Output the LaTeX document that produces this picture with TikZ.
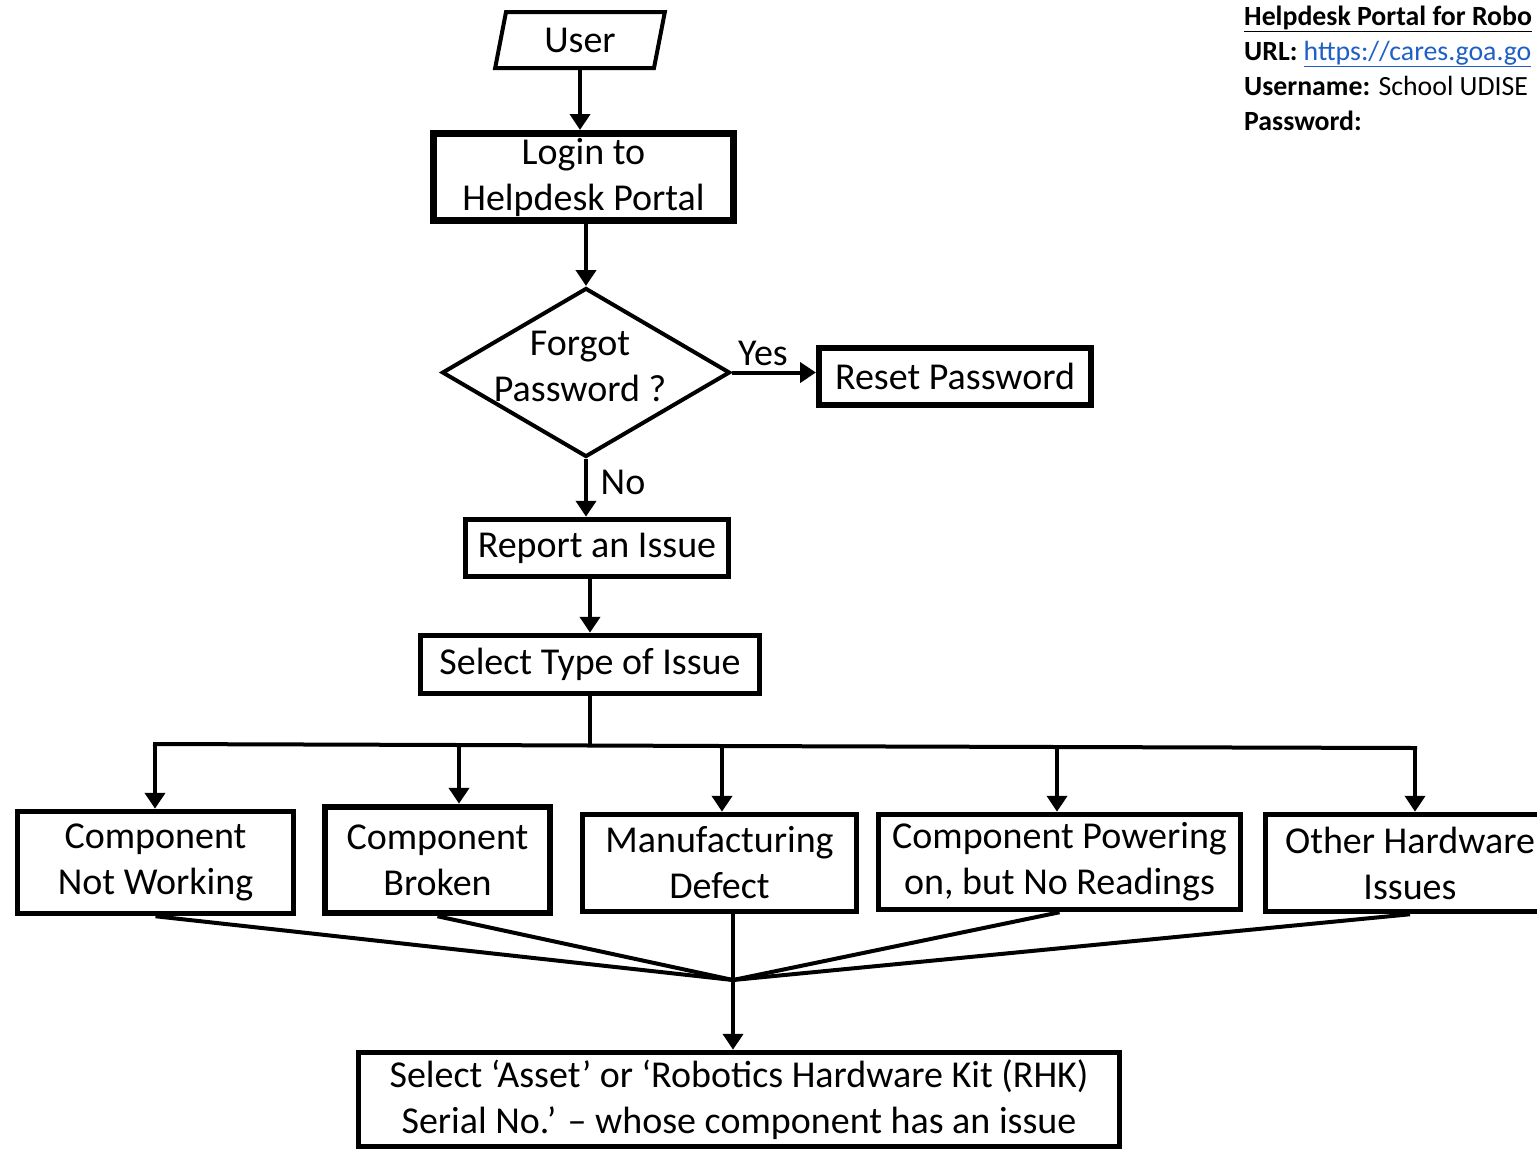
\documentclass[tikz,border=0pt]{standalone}
\usepackage{fontspec}
\setmainfont{Carlito}
\usetikzlibrary{arrows.meta,shapes.geometric}
\definecolor{linkblue}{HTML}{1F5FC8}
\newcommand\mainfs{\fontsize{38}{46}\selectfont}
\newcommand\infofs{\fontsize{27.8}{35}\selectfont}
\tikzset{
  box/.style={draw, rectangle, line width=5.5pt, inner sep=0pt, align=center, font=\mainfs},
  thickbox/.style={box, line width=7pt},
  arr/.style={line width=4pt, -{Triangle[width=20pt,length=16pt]}},
  conn/.style={line width=4pt},
  lbl/.style={font=\mainfs, inner sep=0pt},
  info/.style={font=\infofs, inner sep=0pt, anchor=base west}
}
\begin{document}
\begin{tikzpicture}[x=1pt,y=-1pt]
\clip (0,0) rectangle (1537,1149);
\fill[white] (0,0) rectangle (1537,1149);

% top flow
\node[trapezium, trapezium left angle=78, trapezium right angle=102, trapezium stretches=true,
      draw, line width=4pt, minimum width=170pt, minimum height=56pt, inner sep=0pt, font=\mainfs]
      (user) at (580,40) {User};
\node[thickbox, minimum width=300pt, minimum height=87pt] (login) at (583.5,177) {Login to\\Helpdesk Portal};
\node[diamond, draw, line width=4pt, aspect=1.7, minimum width=288pt, minimum height=169pt, inner sep=0pt]
      (dec) at (586,372.5) {};
\node[lbl, align=center] (dectext) at (580,366) {Forgot\\Password ?};
\node[box, line width=6pt, minimum width=272pt, minimum height=57pt] (reset) at (955,376.5) {Reset Password};
\node[box, minimum width=263pt, minimum height=57pt] (report) at (597,548) {Report an Issue};
\node[box, minimum width=339pt, minimum height=58pt] (stype) at (590,664.5) {Select Type of Issue};

\node[lbl] (yes) at (763,353) {Yes};
\node[lbl] (no) at (623,482) {No};

\draw[arr] (user.south) -- (user.south |- login.north);
\draw[arr] (login.south -| dec.north) -- (dec.north);
\draw[arr] (dec.east) -- (dec.east -| reset.west);
\draw[arr] (dec.south) -- (dec.south |- report.north);
\draw[arr] (stype.north |- report.south) -- (stype.north);

% issue types
\node[box, minimum width=276pt, minimum height=102pt] (b1) at (155.5,862.5) {Component\\Not Working};
\node[box, line width=6.5pt, minimum width=225pt, minimum height=106pt] (b2) at (437.5,860) {Component\\Broken};
\node[box, minimum width=274pt, minimum height=97pt] (b3) at (719.5,863) {Manufacturing\\Defect};
\node[box, minimum width=362pt, minimum height=95pt] (b4) at (1059.5,862) {Component Powering\\on, but No Readings};
\node[box, minimum width=289pt, minimum height=97pt] (b5) at (1410,863) {Other Hardware\\Issues};

\coordinate (busy) at (0,745);
\coordinate (t1) at (155,744);
\coordinate (t2) at (459,745);
\coordinate (t3) at (722,746);
\coordinate (t4) at (1057,747);
\coordinate (t5) at (1415,748);
\draw[conn] (stype.south) -- (stype.south |- busy);
\draw[conn, line cap=rect] (t1) -- (t2) -- (t3) -- (t4) -- (t5);
\draw[arr] (t1) -- (t1 |- b1.north);
\draw[arr] (t2) -- (t2 |- b2.north);
\draw[arr] (t3) -- (t3 |- b3.north);
\draw[arr] (t4) -- (t4 |- b4.north);
\draw[arr] (t5) -- (t5 |- b5.north);

% final step
\node[box, minimum width=761pt, minimum height=94pt] (rhk) at (739,1099.5)
  {Select ‘Asset’ or ‘Robotics Hardware Kit (RHK)\\Serial No.’ – whose component has an issue};

\coordinate (m) at (733,980);
\draw[conn] (b1.south) -- (m);
\draw[conn] (b2.south) -- (m);
\draw[conn] (m |- b3.south) -- (m);
\draw[conn] (b4.south) -- (m);
\draw[conn] (b5.south) -- (m);
\draw[arr] (m) -- (m |- rhk.north);

% info text
\node[info] (i1) at (1244,25) {\textbf{\underline{Helpdesk Portal for Robo}}};
\node[info] (i2) at (1244,60) {\textbf{URL:} \textcolor{linkblue}{\underline{https://cares.goa.go}}};
\node[info] (i3) at (1244,95) {\textbf{Username:} School UDISE};
\node[info] (i4) at (1244,130) {\textbf{Password:}};
\end{tikzpicture}
\end{document}
